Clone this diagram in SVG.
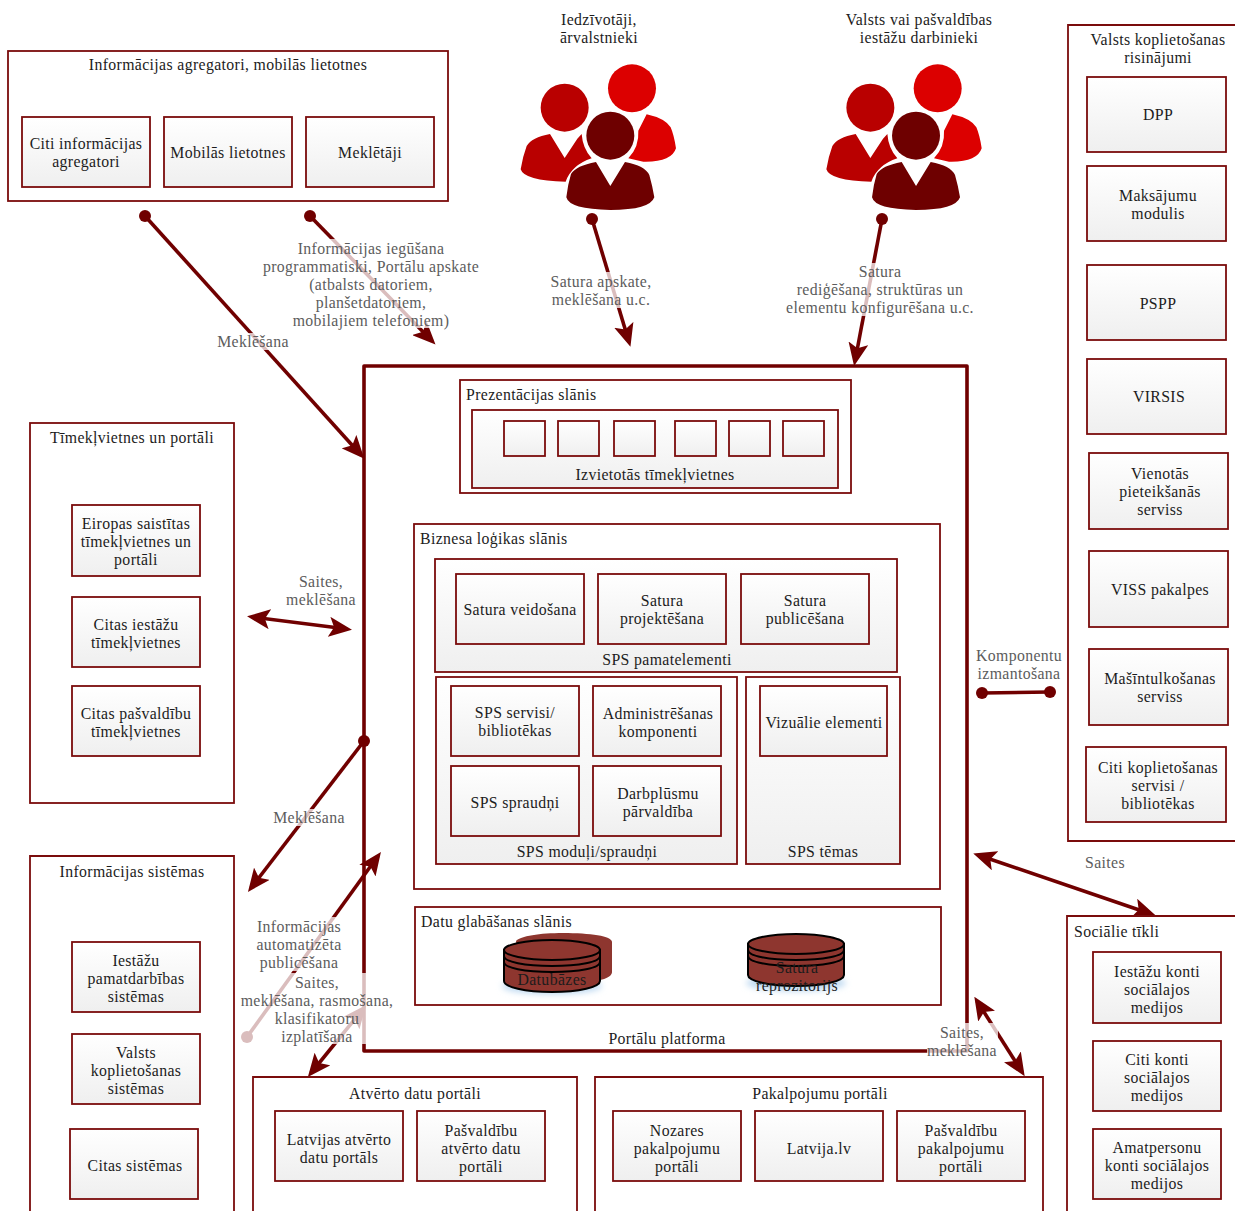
<svg xmlns="http://www.w3.org/2000/svg" xmlns:xlink="http://www.w3.org/1999/xlink" width="1235" height="1211" viewBox="0 0 1235 1211">
<style>
text{font-family:"Liberation Serif","Times New Roman",serif;font-size:15.8px;fill:#1c1c1c;text-anchor:middle;letter-spacing:.36px;transform:translateY(.5px)}
text.l{text-anchor:start}
text.g{fill:#5c5c5c}
.c{fill:#fff;stroke:#7a0c0c;stroke-width:1.8}
.b{fill:url(#gr);stroke:#7a0c0c;stroke-width:1.8}
.p{fill:none;stroke:#700000;stroke-width:3.6;stroke-linejoin:round}
.k{fill:none;stroke:#700000;stroke-width:3.6}
.a{marker-end:url(#ah)}
.d{marker-end:url(#ah);marker-start:url(#ah)}
.o{fill:#700000}
.lb{fill:#fff;fill-opacity:.74}
.cy{fill:#8e362f;stroke:#000;stroke-width:2}
.cn{fill:none;stroke:#000;stroke-width:2}
</style>
<defs>
<linearGradient id="gr" x1="0" y1="0" x2="0" y2="1"><stop offset="0" stop-color="#fff"/><stop offset="1" stop-color="#efefef"/></linearGradient>
<marker id="ah" viewBox="0 0 23 20" refX="18" refY="10" markerWidth="23" markerHeight="20" markerUnits="userSpaceOnUse" orient="auto-start-reverse"><path d="M0,0L23,10L0,20L5,10Z" fill="#700000"/></marker>
<filter id="bl" x="-30%" y="-60%" width="160%" height="220%"><feGaussianBlur stdDeviation="3"/></filter>
<g id="people">
<circle cx="396" cy="265" r="72" fill="#dc0000"/>
<path d="M440,343L415,392Q418,440 385,475L430,485Q515,487 528,445Q522,405 512,382Q495,355 440,343Z" fill="#dc0000"/>
<circle cx="194" cy="323" r="72" fill="#b90000"/>
<path d="M150,402L194,474L232,416L245,402Q248,445 275,475Q215,495 197,545Q72,542 62,508Q68,470 80,438Q95,412 150,402Z" fill="#b90000"/>
<circle cx="331" cy="407" r="72" fill="#6e0000"/>
<path d="M288,486L331,558L375,486Q435,497 448,525Q458,560 463,592Q450,630 331,630Q208,628 199,592Q203,555 213,522Q228,497 288,486Z" fill="#6e0000"/>
</g>
<g id="cyl">
<path class="cy" d="M0,11V42C0,48 21,53 48,53S96,48 96,42V11Z"/>
<ellipse class="cy" cx="48" cy="11" rx="48" ry="10"/>
<path class="cn" d="M0,17C0,23 21,27 48,27S96,23 96,17M0,23C0,29 21,33 48,33S96,29 96,23"/>
</g>
</defs>

<g id="platform"><rect class="p" x="364" y="366" width="603" height="685"/><text x="667" y="1043">Portālu platforma</text></g>

<g id="connectors">
<path class="k a" d="M145,216L361,455"/>
<path class="k a" d="M310,216L432,341"/>
<path class="k a" d="M592,219L629,342"/>
<path class="k a" d="M882,219L855,361"/>
<path class="k d" d="M252,617L347,629"/>
<path class="k a" d="M364,741L251,888"/>
<path class="k a" d="M247,1037L378,856"/>
<path class="k d" d="M363,1009L311,1073"/>
<path class="k" d="M982,693L1050,692"/>
<path class="k d" d="M978,855L1151,914"/>
<path class="k d" d="M977,1001L1022,1072"/>
<g class="o"><circle cx="145" cy="216" r="6"/><circle cx="310" cy="216" r="6"/><circle cx="592" cy="219" r="6"/><circle cx="882" cy="219" r="6"/><circle cx="364" cy="741" r="6"/><circle cx="247" cy="1037" r="6"/><circle cx="982" cy="693" r="6"/><circle cx="1050" cy="692" r="6"/></g>
</g>

<g id="agg"><rect class="c" x="8" y="51" width="440" height="150"/><text x="228" y="69">Informācijas agregatori, mobilās lietotnes</text>
<g id="agg1"><rect class="b" x="22" y="117" width="128" height="70"/><text x="86" y="148">Citi informācijas<tspan x="86" dy="18">agregatori</tspan></text></g>
<g id="agg2"><rect class="b" x="164" y="117" width="128" height="70"/><text x="228" y="157">Mobilās lietotnes</text></g>
<g id="agg3"><rect class="b" x="306" y="117" width="128" height="70"/><text x="370" y="157">Meklētāji</text></g></g>

<g id="users1"><use xlink:href="#people" href="#people" transform="translate(500,0) scale(.3333)"/><text x="599" y="24">Iedzīvotāji,<tspan x="599" dy="18">ārvalstnieki</tspan></text></g>
<g id="users2"><use xlink:href="#people" href="#people" transform="translate(805.7,0) scale(.3333)"/><text x="919" y="24">Valsts vai pašvaldības<tspan x="919" dy="18">iestāžu darbinieki</tspan></text></g>

<g id="shared"><path class="c" d="M1238,25H1068V841H1238"/><text x="1158" y="44">Valsts koplietošanas<tspan x="1158" dy="18">risinājumi</tspan></text>
<g id="s1"><rect class="b" x="1087" y="77" width="139" height="75"/><text x="1158" y="119">DPP</text></g>
<g id="s2"><rect class="b" x="1087" y="166" width="139" height="75"/><text x="1158" y="200">Maksājumu<tspan x="1158" dy="18">modulis</tspan></text></g>
<g id="s3"><rect class="b" x="1087" y="265" width="139" height="75"/><text x="1158" y="308">PSPP</text></g>
<g id="s4"><rect class="b" x="1087" y="359" width="139" height="75"/><text x="1159" y="401">VIRSIS</text></g>
<g id="s5"><rect class="b" x="1089" y="453" width="139" height="76"/><text x="1160" y="478">Vienotās<tspan x="1160" dy="18">pieteikšanās</tspan><tspan x="1160" dy="18">serviss</tspan></text></g>
<g id="s6"><rect class="b" x="1089" y="551" width="139" height="76"/><text x="1160" y="594">VISS pakalpes</text></g>
<g id="s7"><rect class="b" x="1089" y="649" width="139" height="76"/><text x="1160" y="683">Mašīntulkošanas<tspan x="1160" dy="18">serviss</tspan></text></g>
<g id="s8"><rect class="b" x="1086" y="747" width="140" height="75"/><text x="1158" y="772">Citi koplietošanas<tspan x="1158" dy="18">servisi /</tspan><tspan x="1158" dy="18">bibliotēkas</tspan></text></g></g>

<g id="web"><rect class="c" x="30" y="423" width="204" height="380"/><text x="132" y="442">Tīmekļvietnes un portāli</text>
<g id="w1"><rect class="b" x="72" y="505" width="128" height="71"/><text x="136" y="528">Eiropas saistītas<tspan x="136" dy="18">tīmekļvietnes un</tspan><tspan x="136" dy="18">portāli</tspan></text></g>
<g id="w2"><rect class="b" x="72" y="597" width="128" height="70"/><text x="136" y="629">Citas iestāžu<tspan x="136" dy="18">tīmekļvietnes</tspan></text></g>
<g id="w3"><rect class="b" x="72" y="686" width="128" height="70"/><text x="136" y="718">Citas pašvaldību<tspan x="136" dy="18">tīmekļvietnes</tspan></text></g></g>

<g id="infosys"><path class="c" d="M30,1214V856H234V1214"/><text x="132" y="876">Informācijas sistēmas</text>
<g id="i1"><rect class="b" x="72" y="942" width="128" height="70"/><text x="136" y="965">Iestāžu<tspan x="136" dy="18">pamatdarbības</tspan><tspan x="136" dy="18">sistēmas</tspan></text></g>
<g id="i2"><rect class="b" x="72" y="1034" width="128" height="70"/><text x="136" y="1057">Valsts<tspan x="136" dy="18">koplietošanas</tspan><tspan x="136" dy="18">sistēmas</tspan></text></g>
<g id="i3"><rect class="b" x="70" y="1129" width="128" height="70"/><text x="135" y="1170">Citas sistēmas</text></g></g>

<g id="opendata"><path class="c" d="M253,1214V1077H577V1214"/><text x="415" y="1098">Atvērto datu portāli</text>
<g id="o1"><rect class="b" x="275" y="1111" width="128" height="70"/><text x="339" y="1144">Latvijas atvērto<tspan x="339" dy="18">datu portāls</tspan></text></g>
<g id="o2"><rect class="b" x="417" y="1111" width="128" height="70"/><text x="481" y="1135">Pašvaldību<tspan x="481" dy="18">atvērto datu</tspan><tspan x="481" dy="18">portāli</tspan></text></g></g>

<g id="services"><path class="c" d="M595,1214V1077H1043V1214"/><text x="820" y="1098">Pakalpojumu portāli</text>
<g id="p1"><rect class="b" x="613" y="1111" width="128" height="70"/><text x="677" y="1135">Nozares<tspan x="677" dy="18">pakalpojumu</tspan><tspan x="677" dy="18">portāli</tspan></text></g>
<g id="p2"><rect class="b" x="755" y="1111" width="128" height="70"/><text x="819" y="1153">Latvija.lv</text></g>
<g id="p3"><rect class="b" x="897" y="1111" width="128" height="70"/><text x="961" y="1135">Pašvaldību<tspan x="961" dy="18">pakalpojumu</tspan><tspan x="961" dy="18">portāli</tspan></text></g></g>

<g id="social"><path class="c" d="M1238,916H1067V1214"/><text class="l" x="1074" y="936">Sociālie tīkli</text>
<g id="m1"><rect class="b" x="1093" y="952" width="128" height="71"/><text x="1157" y="976">Iestāžu konti<tspan x="1157" dy="18">sociālajos</tspan><tspan x="1157" dy="18">medijos</tspan></text></g>
<g id="m2"><rect class="b" x="1093" y="1041" width="128" height="70"/><text x="1157" y="1064">Citi konti<tspan x="1157" dy="18">sociālajos</tspan><tspan x="1157" dy="18">medijos</tspan></text></g>
<g id="m3"><rect class="b" x="1093" y="1129" width="128" height="70"/><text x="1157" y="1152">Amatpersonu<tspan x="1157" dy="18">konti sociālajos</tspan><tspan x="1157" dy="18">medijos</tspan></text></g></g>

<g id="presentation"><rect class="c" x="460" y="380" width="391" height="113"/><text class="l" x="466" y="399">Prezentācijas slānis</text>
<g id="sites"><rect class="b" x="472" y="410" width="366" height="78"/>
<rect class="b" x="504" y="421" width="41" height="35"/><rect class="b" x="558" y="421" width="41" height="35"/><rect class="b" x="614" y="421" width="41" height="35"/><rect class="b" x="675" y="421" width="41" height="35"/><rect class="b" x="729" y="421" width="41" height="35"/><rect class="b" x="783" y="421" width="41" height="35"/>
<text x="655" y="479">Izvietotās tīmekļvietnes</text></g></g>

<g id="business"><rect class="c" x="414" y="524" width="526" height="365"/><text class="l" x="420" y="543">Biznesa loģikas slānis</text>
<g id="core"><rect class="b" x="435" y="559" width="462" height="113"/><text x="667" y="664">SPS pamatelementi</text>
<g id="c1"><rect class="b" x="456" y="574" width="128" height="70"/><text x="520" y="614">Satura veidošana</text></g>
<g id="c2"><rect class="b" x="598" y="574" width="128" height="70"/><text x="662" y="605">Satura<tspan x="662" dy="18">projektēšana</tspan></text></g>
<g id="c3"><rect class="b" x="741" y="574" width="128" height="70"/><text x="805" y="605">Satura<tspan x="805" dy="18">publicēšana</tspan></text></g></g>
<g id="modules"><rect class="b" x="436" y="677" width="301" height="187"/><text x="587" y="856">SPS moduļi/spraudņi</text>
<g id="d1"><rect class="b" x="451" y="686" width="128" height="70"/><text x="515" y="717">SPS servisi/<tspan x="515" dy="18">bibliotēkas</tspan></text></g>
<g id="d2"><rect class="b" x="593" y="686" width="128" height="70"/><text x="658" y="718">Administrēšanas<tspan x="658" dy="18">komponenti</tspan></text></g>
<g id="d3"><rect class="b" x="451" y="766" width="128" height="70"/><text x="515" y="807">SPS spraudņi</text></g>
<g id="d4"><rect class="b" x="593" y="766" width="128" height="70"/><text x="658" y="798">Darbplūsmu<tspan x="658" dy="18">pārvaldība</tspan></text></g></g>
<g id="themes"><rect class="b" x="746" y="677" width="154" height="187"/><text x="823" y="856">SPS tēmas</text>
<g id="t1"><rect class="b" x="760" y="686" width="127" height="70"/><text x="824" y="727">Vizuālie elementi</text></g></g></g>

<g id="storage"><rect class="c" x="415" y="907" width="526" height="98"/><text class="l" x="421" y="926">Datu glabāšanas slānis</text>
<g id="db"><ellipse cx="552" cy="986" rx="50" ry="8" fill="#bcd8f0" filter="url(#bl)"/>
<path d="M516,941C520,936 540,933 563,933C590,933 612,936 612,942V972C612,978 600,981 585,982L520,982Z" fill="#8e362f"/>
<use xlink:href="#cyl" href="#cyl" x="504" y="939"/><text x="552" y="984">Datubāzes</text></g>
<g id="repo"><ellipse cx="796" cy="983" rx="50" ry="8" fill="#bcd8f0" filter="url(#bl)"/>
<use xlink:href="#cyl" href="#cyl" x="748" y="933"/><text x="797" y="972">Satura<tspan x="797" dy="18">reprozitorijs</tspan></text></g></g>

<g id="labels">
<rect class="lb" x="218" y="333" width="71" height="17"/><text class="g" x="253" y="346">Meklēšana</text>
<rect class="lb" x="262" y="239" width="218" height="89"/><text class="g" x="371" y="253">Informācijas iegūšana<tspan x="371" dy="18">programmatiski, Portālu apskate</tspan><tspan x="371" dy="18">(atbalsts datoriem,</tspan><tspan x="371" dy="18">planšetdatoriem,</tspan><tspan x="371" dy="18">mobilajiem telefoniem)</tspan></text>
<rect class="lb" x="550" y="272" width="102" height="36"/><text class="g" x="601" y="286">Satura apskate,<tspan x="601" dy="18">meklēšana u.c.</tspan></text>
<rect class="lb" x="786" y="263" width="189" height="53"/><text class="g" x="880" y="276">Satura<tspan x="880" dy="18">rediģēšana, struktūras un</tspan><tspan x="880" dy="18">elementu konfigurēšana u.c.</tspan></text>
<rect class="lb" x="286" y="572" width="71" height="36"/><text class="g" x="321" y="586">Saites,<tspan x="321" dy="18">meklēšana</tspan></text>
<rect class="lb" x="975" y="646" width="88" height="36"/><text class="g" x="1019" y="660">Komponentu<tspan x="1019" dy="18">izmantošana</tspan></text>
<rect class="lb" x="273" y="809" width="72" height="17"/><text class="g" x="309" y="822">Meklēšana</text>
<rect class="lb" x="1086" y="854" width="39" height="17"/><text class="g" x="1105" y="867">Saites</text>
<rect class="lb" x="257" y="917" width="85" height="54"/><text class="g" x="299" y="931">Informācijas<tspan x="299" dy="18">automatizēta</tspan><tspan x="299" dy="18">publicēšana</tspan></text>
<rect class="lb" x="240" y="973" width="155" height="71"/><text class="g" x="317" y="987">Saites,<tspan x="317" dy="18">meklēšana, rasmošana,</tspan><tspan x="317" dy="18">klasifikatoru</tspan><tspan x="317" dy="18">izplatīšana</tspan></text>
<rect class="lb" x="927" y="1023" width="71" height="36"/><text class="g" x="962" y="1037">Saites,<tspan x="962" dy="18">meklēšana</tspan></text>
</g>
</svg>
